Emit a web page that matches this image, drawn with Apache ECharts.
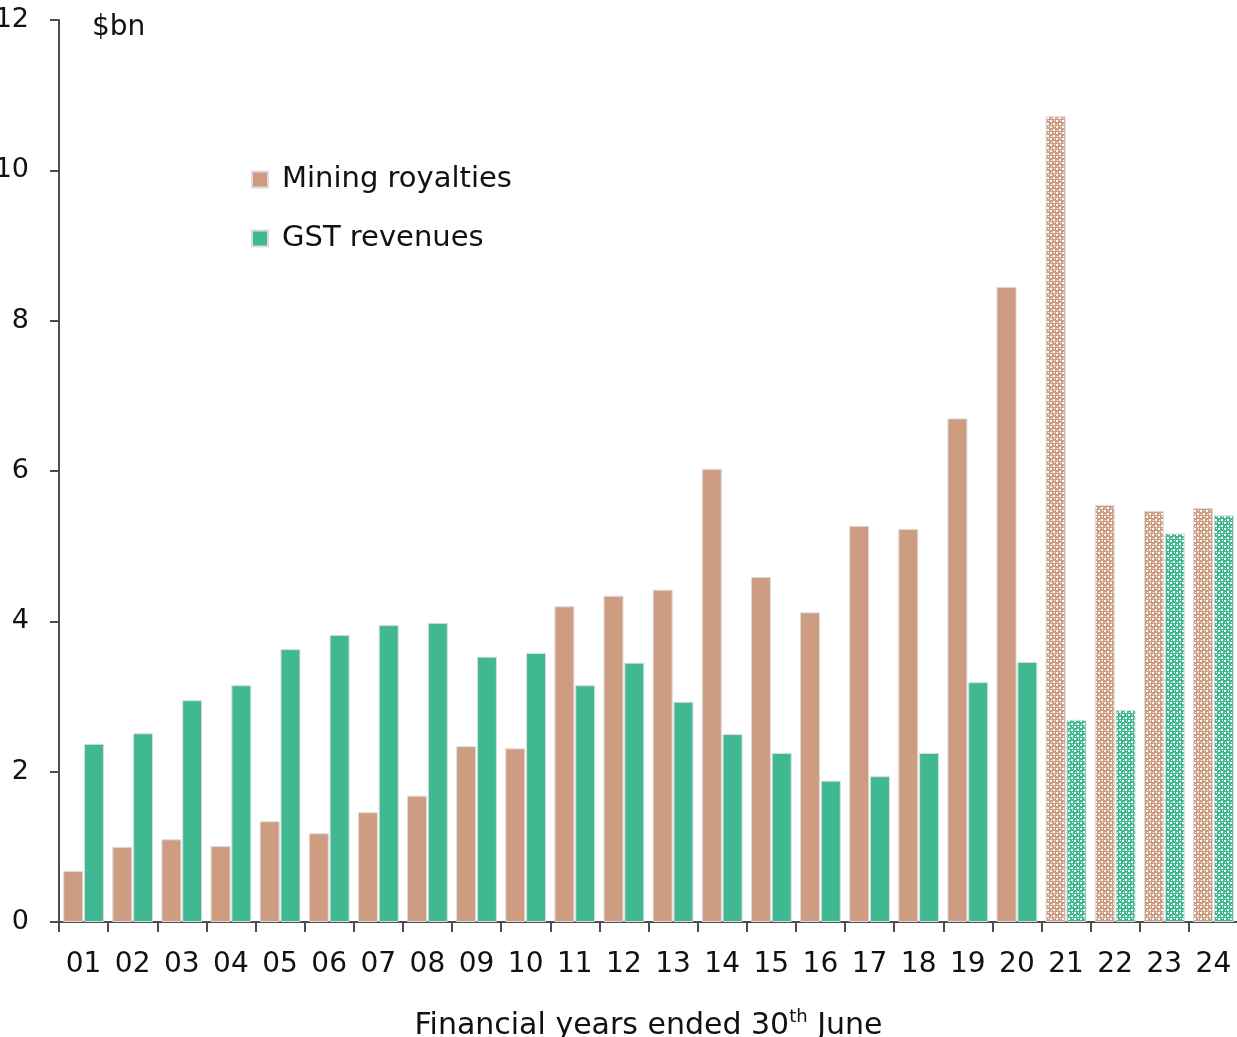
<!DOCTYPE html>
<html>
<head>
<meta charset="utf-8">
<script src="https://cdn.jsdelivr.net/npm/echarts@6/dist/echarts.min.js"></script>
<style>
  html, body { margin: 0; padding: 0; background: #fff; }
  #chart { width: 1237px; height: 1037px; }
</style>
</head>
<body>
<div id="chart"></div>
<script>
// 数据
var years = ['01','02','03','04','05','06','07','08','09','10','11','12',
             '13','14','15','16','17','18','19','20','21','22','23','24'];
var mining = [0.68, 1.00, 1.10, 1.01, 1.34, 1.18, 1.46, 1.68, 2.34, 2.31, 4.20, 4.34,
              4.42, 6.03, 4.59, 4.12, 5.27, 5.23, 6.70, 8.45, 10.72, 5.55, 5.47, 5.51];
var gst = [2.37, 2.51, 2.95, 3.15, 3.63, 3.82, 3.95, 3.98, 3.53, 3.58, 3.15, 3.45,
           2.93, 2.50, 2.25, 1.88, 1.94, 2.25, 3.19, 3.46, 2.69, 2.82, 5.17, 5.41];
var firstForecast = 20; // index of '21'

var brown = '#CE9C81';
var green = '#40B993';
var font = 'DejaVu Sans';

//生成点状纹理
function makePattern(color) {
    var c = document.createElement('canvas');
    c.width = 6;
    c.height = 6;
    var ctx = c.getContext('2d');
    ctx.fillStyle = color;
    ctx.fillRect(0, 0, 6, 6);
    ctx.fillStyle = '#ffffff';
    ctx.fillRect(0, 0, 2, 2);
    ctx.fillRect(3, 3, 2, 2);
    ctx.fillRect(4, 0, 1, 1);
    ctx.fillRect(1, 4, 1, 1);
    return { image: c, repeat: 'repeat' };
}

function buildData(values, color) {
    var pat = makePattern(color);
    return values.map(function(v, i) {
        if (i >= firstForecast) {
            return { value: v, itemStyle: { color: pat } };
        }
        return v;
    });
}

var myChart = echarts.init(document.getElementById('chart'));
myChart.setOption({
    animation: false,
    backgroundColor: '#fff',
    grid: { left: 59, top: 20, width: 1179, height: 902, containLabel: false, outerBoundsMode: 'none' },
    legend: {
        orient: 'vertical',
        left: 246,
        top: 160,
        itemWidth: 16,
        itemHeight: 16,
        itemGap: 30,
        icon: 'rect',
        textStyle: { fontFamily: font, fontSize: 29, color: '#111', padding: [0, 0, 0, 9] },
        data: ['Mining royalties', 'GST revenues']
    },
    xAxis: {
        type: 'category',
        data: years,
        boundaryGap: true,
        axisLine: { lineStyle: { color: '#4d4d4d', width: 2 } },
        axisTick: { show: true, length: 10, alignWithLabel: false, lineStyle: { color: '#4d4d4d', width: 2 } },
        axisLabel: { fontFamily: font, fontSize: 28, color: '#111', margin: 29, interval: 0 },
        name: '{a|Financial years ended 30}{s|th}{a| June}',
        nameLocation: 'middle',
        nameGap: 86,
        nameTextStyle: {
            rich: {
                a: { fontFamily: font, fontSize: 30, color: '#111', lineHeight: 36 },
                s: { fontFamily: font, fontSize: 18, color: '#111', verticalAlign: 'top', lineHeight: 36 }
            }
        }
    },
    yAxis: {
        type: 'value',
        min: 0,
        max: 12,
        interval: 2,
        axisLine: { show: true, lineStyle: { color: '#4d4d4d', width: 2 } },
        axisTick: { show: true, length: 9, lineStyle: { color: '#4d4d4d', width: 2 } },
        splitLine: { show: false },
        axisLabel: { fontFamily: font, fontSize: 27, color: '#111', margin: 30 }
    },
    graphic: [{
        type: 'text',
        left: 92,
        top: 14,
        style: { text: '$bn', fontFamily: font, fontSize: 28, fill: '#111' }
    }],
    series: [{
        name: 'Mining royalties',
        type: 'bar',
        data: buildData(mining, brown),
        barGap: '4%',
        barCategoryGap: '17%',
        itemStyle: { color: brown, borderColor: '#dcdcdc', borderWidth: 1 }
    }, {
        name: 'GST revenues',
        type: 'bar',
        data: buildData(gst, green),
        barGap: '4%',
        barCategoryGap: '17%',
        itemStyle: { color: green, borderColor: '#dcdcdc', borderWidth: 1 }
    }]
});
</script>
</body>
</html>
